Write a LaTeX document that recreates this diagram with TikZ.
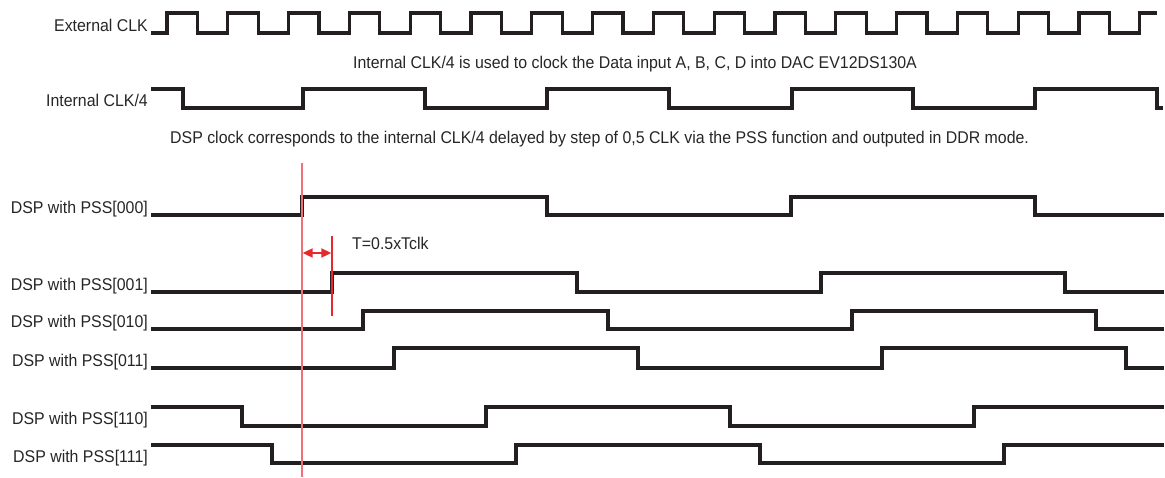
\documentclass[tikz,border=0pt]{standalone}
\usepackage{fontspec}
\setmainfont{Liberation Sans}[FakeStretch=0.935]
\usetikzlibrary{arrows.meta}
\definecolor{wave}{HTML}{231F20}
\definecolor{txt}{HTML}{262626}
\definecolor{redlight}{HTML}{EF7075}
\definecolor{reddark}{HTML}{E52A2D}
\tikzset{
  wv/.style={draw=wave, line width=3.2pt, line join=miter},
  lbl/.style={anchor=base east, inner sep=0pt, text=txt, font=\fontsize{17}{19}\selectfont},
  note/.style={anchor=base west, inner sep=0pt, text=txt, font=\fontsize{17}{19}\selectfont},
  marker/.style={line width=1.3pt},
}
\begin{document}
\begin{tikzpicture}[x=1pt,y=-1pt]
\useasboundingbox (0,0) rectangle (1165,478);
% labels
\node[lbl] (lext) at (148,31.5) {External CLK};
\node[lbl] (lint) at (148,106.5) {Internal CLK/4};
\node[lbl] (l000) at (148,213.5) {DSP with PSS[000]};
\node[lbl] (l001) at (148,290.5) {DSP with PSS[001]};
\node[lbl] (l010) at (148,327.5) {DSP with PSS[010]};
\node[lbl] (l011) at (148,366.5) {DSP with PSS[011]};
\node[lbl] (l110) at (148,424.5) {DSP with PSS[110]};
\node[lbl] (l111) at (148,462) {DSP with PSS[111]};
\node[note] (n1) at (353,69) {Internal CLK/4 is used to clock the Data input A, B, C, D into DAC EV12DS130A};
\node[note] (n2) at (170,143.3) {DSP clock corresponds to the internal CLK/4 delayed by step of 0,5 CLK via the PSS function and outputed in DDR mode.};
\node[note] (nt) at (352,250) {T=0.5xTclk};
% External CLK
\draw[wv] (151,33) \foreach \k in {0,...,15}{ -- ({167+60.8*\k},33) -- ({167+60.8*\k},13) -- ({197.4+60.8*\k},13) -- ({197.4+60.8*\k},33)} -- (1139.8,33) -- (1139.8,13) -- (1157,13);
% Internal CLK/4
\draw[wv] (151,89) -- (183,89) -- (183,108) -- (303,108) -- (303,89) -- (425,89) -- (425,108) -- (547,108) -- (547,89) -- (669,89) -- (669,108) -- (792,108) -- (792,89) -- (913,89) -- (913,108) -- (1035,108) -- (1035,89) -- (1157,89) -- (1157,108) -- (1163,108);
% DSP 000
\draw[wv] (151,215) -- (302,215) -- (302,197) -- (547,197) -- (547,215) -- (791,215) -- (791,197) -- (1035,197) -- (1035,215) -- (1164,215);
% DSP 001
\draw[wv] (151,292) -- (332,292) -- (332,273) -- (577,273) -- (577,292) -- (821,292) -- (821,273) -- (1065,273) -- (1065,292) -- (1164,292);
% DSP 010
\draw[wv] (151,329) -- (363,329) -- (363,311) -- (608,311) -- (608,329) -- (852,329) -- (852,311) -- (1096,311) -- (1096,329) -- (1164,329);
% DSP 011
\draw[wv] (151,368) -- (394,368) -- (394,348) -- (638,348) -- (638,368) -- (882,368) -- (882,348) -- (1126,348) -- (1126,368) -- (1164,368);
% DSP 110
\draw[wv] (151,407) -- (242,407) -- (242,426) -- (486,426) -- (486,407) -- (730,407) -- (730,426) -- (974,426) -- (974,407) -- (1164,407);
% DSP 111
\draw[wv] (151,445) -- (272,445) -- (272,463) -- (516,463) -- (516,445) -- (760,445) -- (760,463) -- (1004,463) -- (1004,445) -- (1164,445);
% red markers
\coordinate (r1t) at (302,163);
\coordinate (r1b) at (302,477);
\coordinate (r2t) at (332,236);
\coordinate (r2b) at (332,316);
\coordinate (a1) at (302.7,253);
\coordinate (a2) at (331.3,253);
\draw[marker, redlight] (r1t) -- (r1b);
\draw[marker, reddark] (r2t) -- (r2b);
\draw[reddark, line width=2pt, {Triangle[length=10pt,width=9pt]}-{Triangle[length=10pt,width=9pt]}] (a1) -- (a2);
\end{tikzpicture}
\end{document}
